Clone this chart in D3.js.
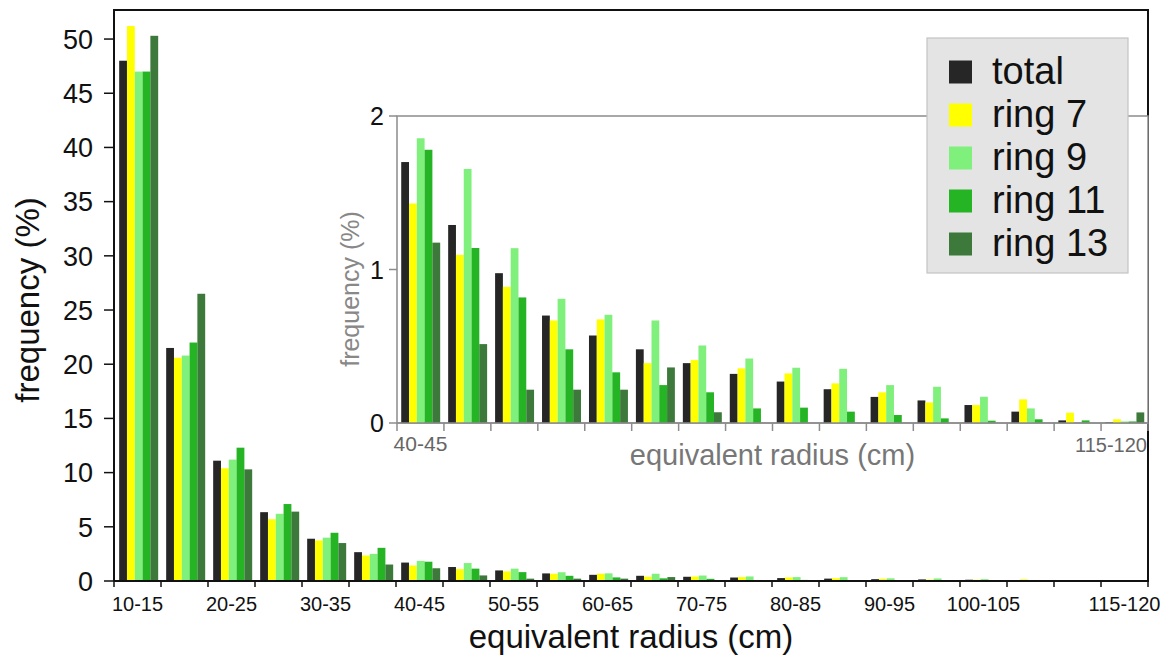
<!DOCTYPE html>
<html>
<head>
<meta charset="utf-8">
<script src="https://cdn.jsdelivr.net/npm/d3@7"></script>
<style>
  body { margin: 0; background: #fff; }
  svg { display: block; font-family: "Liberation Sans", Arial, sans-serif; }
</style>
</head>
<body>
<svg id="chart" width="1171" height="662"></svg>
<script>
// radius classes (cm)
const categories = ["10-15","15-20","20-25","25-30","30-35","35-40","40-45","45-50","50-55","55-60","60-65",
  "65-70","70-75","75-80","80-85","85-90","90-95","95-100","100-105","105-110","110-115","115-120"];
const seriesNames = ["total", "ring 7", "ring 9", "ring 11", "ring 13"];
const seriesColors = ["#262626", "#ffff00", "#80f07c", "#24b424", "#3c793a"];

// frequency (%) per class
const total  = [48.0, 21.5, 11.1, 6.35, 3.9, 2.66, 1.70, 1.29, 0.976, 0.70, 0.57, 0.48, 0.39, 0.32, 0.27, 0.22, 0.17, 0.147, 0.117, 0.074, 0.017, 0.004];
const ring7  = [51.2, 20.6, 10.4, 5.7, 3.74, 2.35, 1.43, 1.095, 0.887, 0.668, 0.675, 0.39, 0.41, 0.356, 0.323, 0.258, 0.20, 0.134, 0.117, 0.154, 0.067, 0.024];
const ring9  = [47.0, 20.8, 11.2, 6.2, 4.0, 2.5, 1.855, 1.655, 1.139, 0.809, 0.705, 0.668, 0.505, 0.42, 0.36, 0.353, 0.247, 0.236, 0.171, 0.095, 0, 0.01];
const ring11 = [47.0, 22.0, 12.3, 7.1, 4.45, 3.06, 1.78, 1.14, 0.818, 0.48, 0.33, 0.247, 0.20, 0.095, 0.10, 0.074, 0.052, 0.03, 0.015, 0.024, 0.017, 0.01];
const ring13 = [50.3, 26.5, 10.3, 6.4, 3.5, 1.52, 1.175, 0.514, 0.217, 0.217, 0.217, 0.362, 0.07, 0, 0, 0, 0, 0, 0, 0, 0, 0.069];

const mainTickLabels = ["10-15","20-25","30-35","40-45","50-55","60-65","70-75","80-85","90-95","100-105","115-120"];
const mainYTicks = [0, 5, 10, 15, 20, 25, 30, 35, 40, 45, 50];
const insetCategories = categories.slice(6);
const insetTickLabels = ["40-45", "115-120"];
const insetYTicks = [0, 1, 2];

const allSeries = [total, ring7, ring9, ring11, ring13];
const rows = categories.map((c, i) => ({
  cat: c,
  vals: seriesNames.map((s, k) => ({ key: s, value: allSeries[k][i] }))
}));

const svg = d3.select("#chart");
const color = d3.scaleOrdinal().domain(seriesNames).range(seriesColors);

// ---- main chart ----
const M = { left: 114, right: 1148, top: 10, bottom: 581 };
const x = d3.scaleBand().domain(categories).range([M.left, M.right]);
const bw = x.bandwidth();
const x1 = d3.scaleBand().domain(seriesNames).range([bw * 0.11, bw * 0.94]);
const y = d3.scaleLinear().domain([0, 52.68]).range([M.bottom, M.top]);

const main = svg.append("g");

main.selectAll("g.grp")
  .data(rows)
  .enter().append("g")
  .attr("transform", d => `translate(${x(d.cat)},0)`)
  .selectAll("rect")
  .data(d => d.vals)
  .enter().append("rect")
  .attr("x", d => x1(d.key))
  .attr("width", x1.bandwidth())
  .attr("y", d => y(d.value))
  .attr("height", d => y(0) - y(d.value))
  .attr("fill", d => color(d.key));

// frame
main.append("path")
  .attr("d", `M${M.left},${M.bottom}V${M.top}H${M.right}V${M.bottom}H${M.left}`)
  .attr("fill", "none").attr("stroke", "#111").attr("stroke-width", 2);

// x ticks at band edges
const edges = categories.map(c => x(c)).concat([x.range()[1]]);
main.selectAll("line.xt")
  .data(edges).enter().append("line")
  .attr("x1", d => d).attr("x2", d => d)
  .attr("y1", M.bottom).attr("y2", M.bottom + 6)
  .attr("stroke", "#111").attr("stroke-width", 1.5);

main.selectAll("text.xl")
  .data(mainTickLabels).enter().append("text")
  .attr("x", d => x(d) + bw / 2)
  .attr("y", 611)
  .attr("text-anchor", "middle")
  .attr("font-size", 20)
  .attr("fill", "#111")
  .text(d => d);

// y axis
main.selectAll("line.yt")
  .data(mainYTicks).enter().append("line")
  .attr("x1", M.left - 10).attr("x2", M.left)
  .attr("y1", d => y(d)).attr("y2", d => y(d))
  .attr("stroke", "#111").attr("stroke-width", 1.5);

main.selectAll("text.yl")
  .data(mainYTicks).enter().append("text")
  .attr("x", 93)
  .attr("y", d => y(d))
  .attr("dy", "0.36em")
  .attr("text-anchor", "end")
  .attr("font-size", 27)
  .attr("fill", "#111")
  .text(d => d);

main.append("text")
  .attr("x", (M.left + M.right) / 2).attr("y", 648)
  .attr("text-anchor", "middle").attr("font-size", 33).attr("fill", "#111")
  .text("equivalent radius (cm)");

main.append("text")
  .attr("transform", "translate(39,300) rotate(-90)")
  .attr("text-anchor", "middle").attr("font-size", 33).attr("fill", "#111")
  .text("frequency (%)");

// ---- inset ----
const I = { left: 397, right: 1148, top: 116, bottom: 423 };
const xi = d3.scaleBand().domain(insetCategories).range([I.left, I.right]);
const bwi = xi.bandwidth();
const xi1 = d3.scaleBand().domain(seriesNames).range([bwi * 0.09, bwi * 0.92]);
const yi = d3.scaleLinear().domain([0, 2]).range([I.bottom, I.top]);

const inset = svg.append("g");
inset.append("rect")
  .attr("x", I.left).attr("y", I.top)
  .attr("width", I.right - I.left).attr("height", I.bottom - I.top)
  .attr("fill", "#fff").attr("stroke", "#8c8c8c").attr("stroke-width", 1.5);

inset.selectAll("g.grp")
  .data(rows.slice(6))
  .enter().append("g")
  .attr("transform", d => `translate(${xi(d.cat)},0)`)
  .selectAll("rect")
  .data(d => d.vals)
  .enter().append("rect")
  .attr("x", d => xi1(d.key))
  .attr("width", xi1.bandwidth())
  .attr("y", d => yi(d.value))
  .attr("height", d => yi(0) - yi(d.value))
  .attr("fill", d => color(d.key));

inset.append("line")
  .attr("x1", I.left).attr("x2", I.right)
  .attr("y1", I.bottom).attr("y2", I.bottom)
  .attr("stroke", "#8c8c8c").attr("stroke-width", 1.5);

const edgesI = insetCategories.map(c => xi(c)).concat([xi.range()[1]]);
inset.selectAll("line.xt")
  .data(edgesI).enter().append("line")
  .attr("x1", d => d).attr("x2", d => d)
  .attr("y1", I.bottom).attr("y2", I.bottom + 8)
  .attr("stroke", "#8c8c8c").attr("stroke-width", 1.5);

inset.append("text")
  .attr("x", xi(insetTickLabels[0]) + bwi / 2).attr("y", 451)
  .attr("text-anchor", "middle").attr("font-size", 21).attr("fill", "#666")
  .text(insetTickLabels[0]);
inset.append("text")
  .attr("x", I.right - 1).attr("y", 452)
  .attr("text-anchor", "end").attr("font-size", 20).attr("fill", "#666")
  .text(insetTickLabels[1]);

inset.selectAll("line.yt")
  .data(insetYTicks).enter().append("line")
  .attr("x1", I.left - 8).attr("x2", I.left)
  .attr("y1", d => yi(d)).attr("y2", d => yi(d))
  .attr("stroke", "#8c8c8c").attr("stroke-width", 1.5);

inset.selectAll("text.yl")
  .data(insetYTicks).enter().append("text")
  .attr("x", 384).attr("y", d => yi(d))
  .attr("dy", "0.36em").attr("text-anchor", "end")
  .attr("font-size", 25).attr("fill", "#111")
  .text(d => d);

inset.append("text")
  .attr("x", (I.left + I.right) / 2).attr("y", 465)
  .attr("text-anchor", "middle").attr("font-size", 29).attr("fill", "#777")
  .text("equivalent radius (cm)");

inset.append("text")
  .attr("transform", "translate(359,289) rotate(-90)")
  .attr("text-anchor", "middle").attr("font-size", 25).attr("fill", "#888")
  .text("frequency (%)");

// ---- legend ----
const lg = svg.append("g").attr("transform", "translate(927,38)");
lg.append("rect")
  .attr("width", 201).attr("height", 235)
  .attr("fill", "#e4e4e4").attr("stroke", "#c4c4c4").attr("stroke-width", 1.2);

const li = lg.selectAll("g.item")
  .data(seriesNames).enter().append("g")
  .attr("transform", (d, i) => `translate(0,${34 + i * 43})`);
li.append("rect")
  .attr("x", 22).attr("y", -11.5)
  .attr("width", 23).attr("height", 23)
  .attr("fill", d => color(d));
li.append("text")
  .attr("x", 65).attr("y", 12)
  .attr("font-size", 38).attr("fill", "#111")
  .text(d => d);
</script>
</body>
</html>
